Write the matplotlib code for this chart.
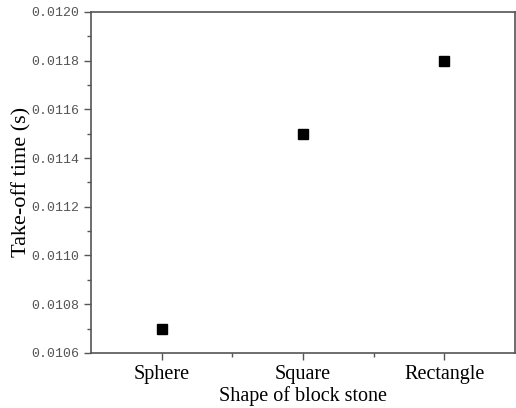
import matplotlib
matplotlib.use("Agg")
import matplotlib.pyplot as plt
from matplotlib.ticker import MultipleLocator, FixedLocator, FormatStrFormatter

# take-off time for each block shape
shapes = ["Sphere", "Square", "Rectangle"]
takeoff_time = [0.0107, 0.0115, 0.0118]

fig = plt.figure(figsize=(5.16, 4.08), dpi=100)
ax = fig.add_axes([0.176, 0.135, 0.822, 0.836])

xs = list(range(1, len(shapes) + 1))
ax.plot(xs, takeoff_time, linestyle="none", marker="s", markersize=7, color="black")

ax.set_xlim(0.5, 3.5)
ax.set_ylim(0.0106, 0.0120)
ax.set_xticks(xs)
ax.set_xticklabels(shapes, fontfamily="Liberation Serif", fontsize=14.5)
ax.xaxis.set_minor_locator(FixedLocator([1.5, 2.5]))
ax.yaxis.set_major_locator(MultipleLocator(0.0002))
ax.yaxis.set_minor_locator(MultipleLocator(0.0001))
ax.yaxis.set_major_formatter(FormatStrFormatter("%.4f"))
for lab in ax.get_yticklabels():
    lab.set_fontfamily("Liberation Mono")
    lab.set_fontsize(9.5)
    lab.set_color("#555555")

ax.tick_params(which="major", direction="out", length=5, width=1, color="#555555", pad=3)
ax.tick_params(axis="x", which="major", pad=4)
ax.tick_params(which="minor", direction="out", length=3, width=1, color="#555555")
for sp in ax.spines.values():
    sp.set_color("#555555")
    sp.set_linewidth(1.2)

ax.set_xlabel("Shape of block stone", fontfamily="Liberation Serif", fontsize=14.5, labelpad=1)
ax.set_ylabel("Take-off time (s)", fontfamily="Liberation Serif", fontsize=16, labelpad=0)

fig.savefig("out.png", dpi=100)
